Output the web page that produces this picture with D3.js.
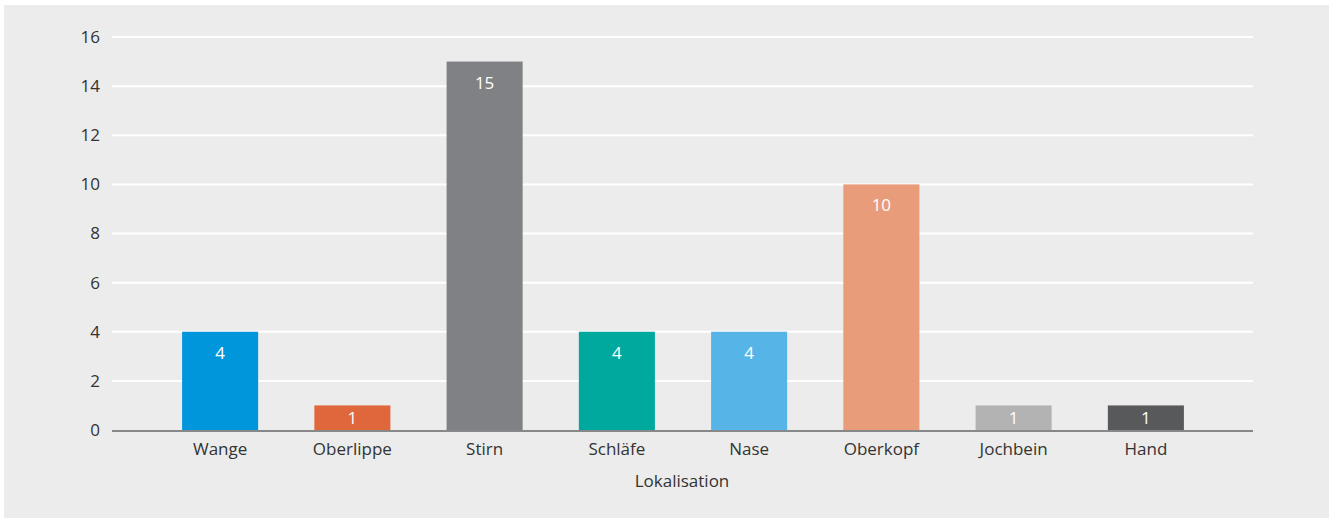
<!DOCTYPE html>
<html>
<head>
<meta charset="utf-8">
<script src="https://cdn.jsdelivr.net/npm/d3@7"></script>
<style>
  html, body { margin: 0; padding: 0; background: #ffffff; }
  svg { display: block; font-family: "Open Sans", "Noto Sans", sans-serif; }
</style>
</head>
<body>
<svg id="chart" width="1333" height="518"></svg>
<script>
// Lokalisation der Befunde (Anzahl)
const categories = ["Wange", "Oberlippe", "Stirn", "Schläfe", "Nase", "Oberkopf", "Jochbein", "Hand"];
const counts = [4, 1, 15, 4, 4, 10, 1, 1];
const barColors = ["#0096db", "#e0663c", "#808184", "#00a99d", "#56b4e6", "#e89c79", "#b3b3b3", "#58595b"];
const yTicks = [0, 2, 4, 6, 8, 10, 12, 14, 16];
const xTitle = "Lokalisation";

const svg = d3.select("#chart");

// panel background
svg.append("rect")
  .attr("x", 4).attr("y", 5)
  .attr("width", 1325).attr("height", 513)
  .attr("fill", "#ebeceb");

const plotLeft = 112, plotRight = 1253;
const y = d3.scaleLinear().domain([0, 16]).range([430, 37]);
const x = d3.scaleBand().domain(categories).range([154, 1212]).paddingInner(0.425).paddingOuter(0.2125);

// horizontal gridlines
svg.append("g")
  .selectAll("line")
  .data(yTicks.filter(t => t > 0))
  .join("line")
  .attr("x1", plotLeft).attr("x2", plotRight)
  .attr("y1", d => y(d)).attr("y2", d => y(d))
  .attr("stroke", "#ffffff").attr("stroke-width", 2);

// y axis labels
const yAxis = d3.axisLeft(y).tickValues(yTicks).tickSize(0).tickPadding(0);
const gy = svg.append("g").attr("transform", `translate(${plotLeft - 12},0)`).call(yAxis);
gy.select(".domain").remove();
gy.selectAll("text")
  .attr("font-size", 17)
  .attr("font-family", "\"Open Sans\", \"Noto Sans\", sans-serif")
  .attr("fill", "#333333");

// bars
svg.append("g")
  .selectAll("rect")
  .data(categories)
  .join("rect")
  .attr("x", d => x(d))
  .attr("width", x.bandwidth())
  .attr("y", (d, i) => y(counts[i]))
  .attr("height", (d, i) => y(0) - y(counts[i]))
  .attr("fill", (d, i) => barColors[i]);

// value labels inside bars
svg.append("g")
  .selectAll("text")
  .data(categories)
  .join("text")
  .attr("x", d => x(d) + x.bandwidth() / 2)
  .attr("y", (d, i) => {
    const top = y(counts[i]);
    const mid = (top + y(0)) / 2 + 6;
    return Math.min(top + 27, mid);
  })
  .attr("text-anchor", "middle")
  .attr("font-size", 17)
  .attr("fill", "#ffffff")
  .text((d, i) => counts[i]);

// x axis baseline
svg.append("line")
  .attr("x1", plotLeft).attr("x2", plotRight)
  .attr("y1", y(0) + 1).attr("y2", y(0) + 1)
  .attr("stroke", "#87888a").attr("stroke-width", 2);

// x axis labels
const xAxis = d3.axisBottom(x).tickSize(0).tickPadding(0);
const gx = svg.append("g").attr("transform", `translate(0,${y(0) + 13})`).call(xAxis);
gx.select(".domain").remove();
gx.selectAll("text")
  .attr("font-size", 17)
  .attr("font-family", "\"Open Sans\", \"Noto Sans\", sans-serif")
  .attr("fill", "#333333");

// axis title
svg.append("text")
  .attr("x", 682).attr("y", 487)
  .attr("text-anchor", "middle")
  .attr("font-size", 17)
  .attr("fill", "#333333")
  .text(xTitle);
</script>
</body>
</html>
